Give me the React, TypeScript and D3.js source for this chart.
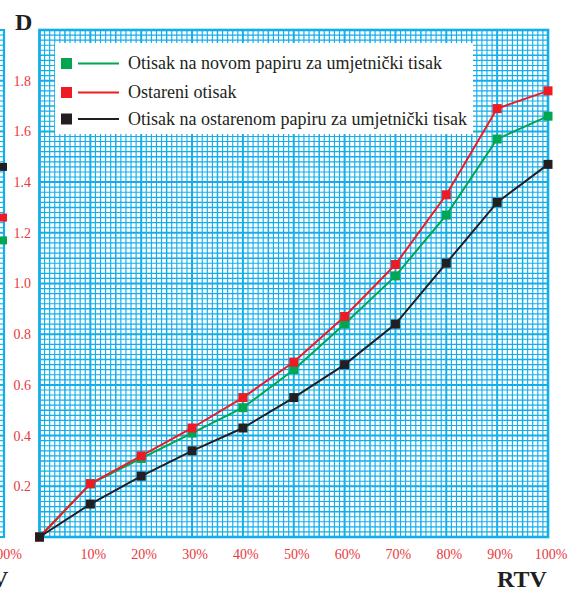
import React from "react";
import * as d3 from "d3";

const rtv = [0, 10, 20, 30, 40, 50, 60, 70, 80, 90, 100];
const novi = [0, 0.21, 0.31, 0.41, 0.51, 0.66, 0.84, 1.03, 1.27, 1.57, 1.66];
const ostareni = [0, 0.21, 0.32, 0.43, 0.55, 0.69, 0.87, 1.075, 1.35, 1.69, 1.76];
const ostPapir = [0, 0.13, 0.24, 0.34, 0.43, 0.55, 0.68, 0.84, 1.08, 1.32, 1.47];
const yTicks = [0.2, 0.4, 0.6, 0.8, 1.0, 1.2, 1.4, 1.6, 1.8];
const xTickLabels = ["10%", "20%", "30%", "40%", "50%", "60%", "70%", "80%", "90%", "100%"];
const legendLabels = [
  "Otisak na novom papiru za umjetnički tisak",
  "Ostareni otisak",
  "Otisak na ostarenom papiru za umjetnički tisak",
];
// neighbouring chart's right-edge values (cropped)
const prevEdge = [1.17, 1.26, 1.46];

const GREEN = "#00a651";
const RED = "#ed1c24";
const BLACK = "#231f20";
const CYAN = "#12aeec";
const LABEL_RED = "#e8383d";
const SERIF = "Liberation Serif, Times New Roman, Times, serif";

export default function App() {
  const x = d3.scaleLinear().domain([0, 100]).range([39.5, 548]);
  const y = d3.scaleLinear().domain([0, 2]).range([537, 30]);
  const series = [
    { vals: novi, color: GREEN },
    { vals: ostareni, color: RED },
    { vals: ostPapir, color: BLACK },
  ];
  const line = d3
    .line<number>()
    .x((_, i) => x(rtv[i]))
    .y((d) => y(d));

  const vLines = d3.range(0, 101, 1);
  const hLines = d3.range(0, 101, 1).map((k) => k * 0.02);
  const yPrev = d3.scaleLinear().domain([0, 2]).range([537, 30]);

  const legendY = [63.5, 92.5, 119];
  const tf = { fontFamily: SERIF };

  return (
    <svg width={576} height={592} style={{ position: "absolute", left: 0, top: 0, background: "#fff" }}>
      {/* cropped neighbouring chart at left */}
      <g>
        {hLines.map((v, i) => (
          <line key={"ph" + i} x1={0} x2={4} y1={yPrev(v)} y2={yPrev(v)} stroke={CYAN}
            strokeWidth={i % 10 === 0 ? 2 : 1.1} />
        ))}
        <line x1={4} x2={4} y1={29} y2={538} stroke={CYAN} strokeWidth={2.2} />
        {prevEdge.map((v, i) => (
          <rect key={"pm" + i} x={-1} y={yPrev(v) - 4} width={8} height={8}
            fill={[GREEN, RED, BLACK][i]} />
        ))}
        <text x={22} y={559} fill={LABEL_RED} fontSize={14} textAnchor="end" style={tf}>100%</text>
        <text x={-9} y={587} fill={BLACK} fontSize={24} fontWeight="bold" style={tf}>V</text>
      </g>

      {/* grid */}
      <g>
        {vLines.map((k) => (
          <line key={"v" + k} x1={x(k)} x2={x(k)} y1={y(2)} y2={y(0)} stroke={CYAN}
            strokeWidth={k % 10 === 0 ? 2 : k % 5 === 0 ? 1.5 : 1.15} />
        ))}
        {hLines.map((v, k) => (
          <line key={"h" + k} x1={x(0)} x2={x(100)} y1={y(v)} y2={y(v)} stroke={CYAN}
            strokeWidth={k % 10 === 0 ? 2 : k % 5 === 0 ? 1.5 : 1.15} />
        ))}
        <rect x={x(0)} y={y(2)} width={x(100) - x(0)} height={y(0) - y(2)} fill="none"
          stroke={CYAN} strokeWidth={2.6} />
      </g>

      {/* legend box */}
      <rect x={55} y={43} width={418} height={91} fill="#fff" />
      {legendLabels.map((lab, i) => (
        <g key={"lg" + i}>
          <rect x={61} y={legendY[i] - 5.5} width={11} height={11} fill={series[i].color} />
          <line x1={78} x2={119} y1={legendY[i]} y2={legendY[i]} stroke={series[i].color} strokeWidth={1.8} />
          <text x={128} y={legendY[i] + 5.5} fontSize={18} fill={BLACK} style={tf}>{lab}</text>
        </g>
      ))}

      {/* series */}
      {series.map((s, i) => (
        <g key={"s" + i}>
          <path d={line(s.vals) || ""} fill="none" stroke={s.color} strokeWidth={2} />
          {s.vals.map((v, j) => (
            <rect key={j} x={x(rtv[j]) - 4.5} y={y(v) - 4.5} width={9} height={9} fill={s.color} />
          ))}
        </g>
      ))}

      {/* y tick labels */}
      {yTicks.map((t) => (
        <text key={"yt" + t} x={31} y={y(t)} dy="0.35em" textAnchor="end" fontSize={14}
          fill={LABEL_RED} style={tf}>{t.toFixed(1)}</text>
      ))}
      {/* x tick labels */}
      {xTickLabels.map((lab, i) => (
        <text key={"xt" + i} x={x((i + 1) * 10) + 3} y={559} textAnchor="middle" fontSize={14}
          fill={LABEL_RED} style={tf}>{lab}</text>
      ))}

      {/* axis titles */}
      <text x={15} y={30} fontSize={24} fontWeight="bold" fill={BLACK} style={tf}>D</text>
      <text x={497} y={587} fontSize={24} fontWeight="bold" fill={BLACK} style={tf}>RTV</text>
    </svg>
  );
}
